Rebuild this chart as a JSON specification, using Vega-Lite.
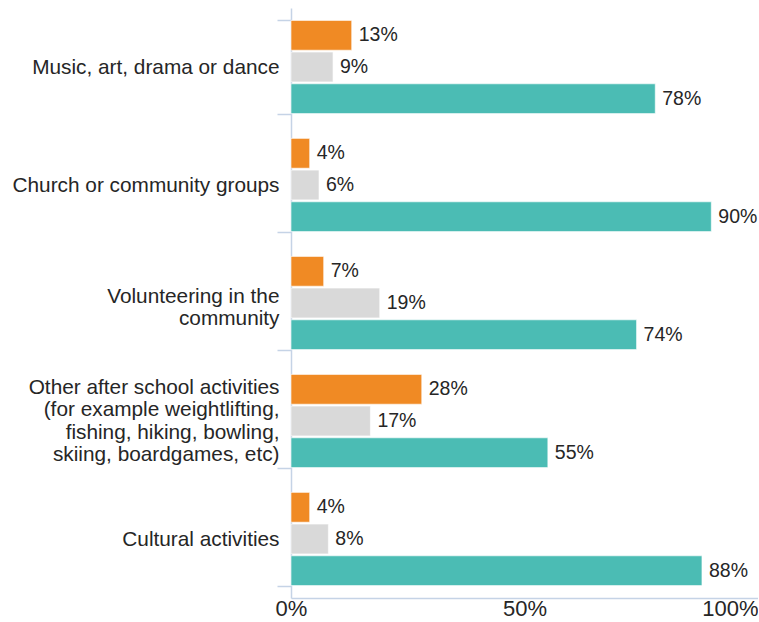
{
  "$schema": "https://vega.github.io/schema/vega-lite/v6.json",
  "autosize": "none",
  "width": 467,
  "height": 590,
  "padding": {"left": 291, "top": 8, "right": 0, "bottom": 24},
  "background": "white",
  "config": {
    "view": {"stroke": null},
    "font": "Liberation Sans",
    "axis": {"grid": false}
  },
  "data": {
    "values": [
      {"category": "Music, art, drama or dance", "series": "Series 1", "value": 0.13},
      {"category": "Music, art, drama or dance", "series": "Series 2", "value": 0.09},
      {"category": "Music, art, drama or dance", "series": "Series 3", "value": 0.78},
      {"category": "Church or community groups", "series": "Series 1", "value": 0.04},
      {"category": "Church or community groups", "series": "Series 2", "value": 0.06},
      {"category": "Church or community groups", "series": "Series 3", "value": 0.90},
      {"category": "Volunteering in the|community", "series": "Series 1", "value": 0.07},
      {"category": "Volunteering in the|community", "series": "Series 2", "value": 0.19},
      {"category": "Volunteering in the|community", "series": "Series 3", "value": 0.74},
      {"category": "Other after school activities|(for example weightlifting,|fishing, hiking, bowling,|skiing, boardgames, etc)", "series": "Series 1", "value": 0.28},
      {"category": "Other after school activities|(for example weightlifting,|fishing, hiking, bowling,|skiing, boardgames, etc)", "series": "Series 2", "value": 0.17},
      {"category": "Other after school activities|(for example weightlifting,|fishing, hiking, bowling,|skiing, boardgames, etc)", "series": "Series 3", "value": 0.55},
      {"category": "Cultural activities", "series": "Series 1", "value": 0.04},
      {"category": "Cultural activities", "series": "Series 2", "value": 0.08},
      {"category": "Cultural activities", "series": "Series 3", "value": 0.88}
    ]
  },
  "encoding": {
    "y": {
      "field": "category",
      "type": "nominal",
      "sort": null,
      "title": null,
      "scale": {"paddingInner": 0.21, "paddingOuter": 0.105},
      "axis": {
        "labelExpr": "split(datum.label, '|')",
        "labelFontSize": 20.8,
        "labelColor": "#262626",
        "labelLineHeight": 22.5,
        "labelPadding": -2,
        "labelLimit": 300,
        "labelOffset": {"expr": "length(split(datum.label, '|')) == 2 ? -7 : -(length(split(datum.label, '|')) - 1) * 11.25"},
        "tickBand": "extent",
        "tickSize": 14,
        "tickColor": "#C5D3E6",
        "domainColor": "#C5D3E6",
        "domainWidth": 1.5,
        "tickWidth": 1.5
      }
    },
    "yOffset": {"field": "series", "type": "nominal", "sort": null, "scale": {"paddingInner": 0.06}},
    "x": {
      "field": "value",
      "type": "quantitative",
      "title": null,
      "scale": {"domain": [0, 1], "nice": false},
      "axis": {
        "values": [0, 0.5, 1],
        "format": ".0%",
        "labelFontSize": 22,
        "labelColor": "#262626",
        "labelPadding": 0,
        "ticks": false,
        "domainColor": "#C5D3E6",
        "domainWidth": 1.5,
        "labelAlign": {"expr": "datum.value === 1 ? 'right' : 'center'"},
        "labelFlush": false,
        "labelOverlap": false
      }
    }
  },
  "layer": [
    {
      "mark": {"type": "bar", "stroke": "#ffffff", "strokeOpacity": 0.6, "strokeWidth": 1},
      "encoding": {
        "color": {
          "field": "series",
          "type": "nominal",
          "sort": null,
          "legend": null,
          "scale": {"domain": ["Series 1", "Series 2", "Series 3"], "range": ["#F08A24", "#D9D9D9", "#4BBCB4"]}
        }
      }
    },
    {
      "mark": {"type": "text", "align": "left", "baseline": "middle", "dx": 7, "fontSize": 19.5, "color": "#262626"},
      "encoding": {
        "text": {"field": "value", "type": "quantitative", "format": ".0%"}
      }
    }
  ]
}
